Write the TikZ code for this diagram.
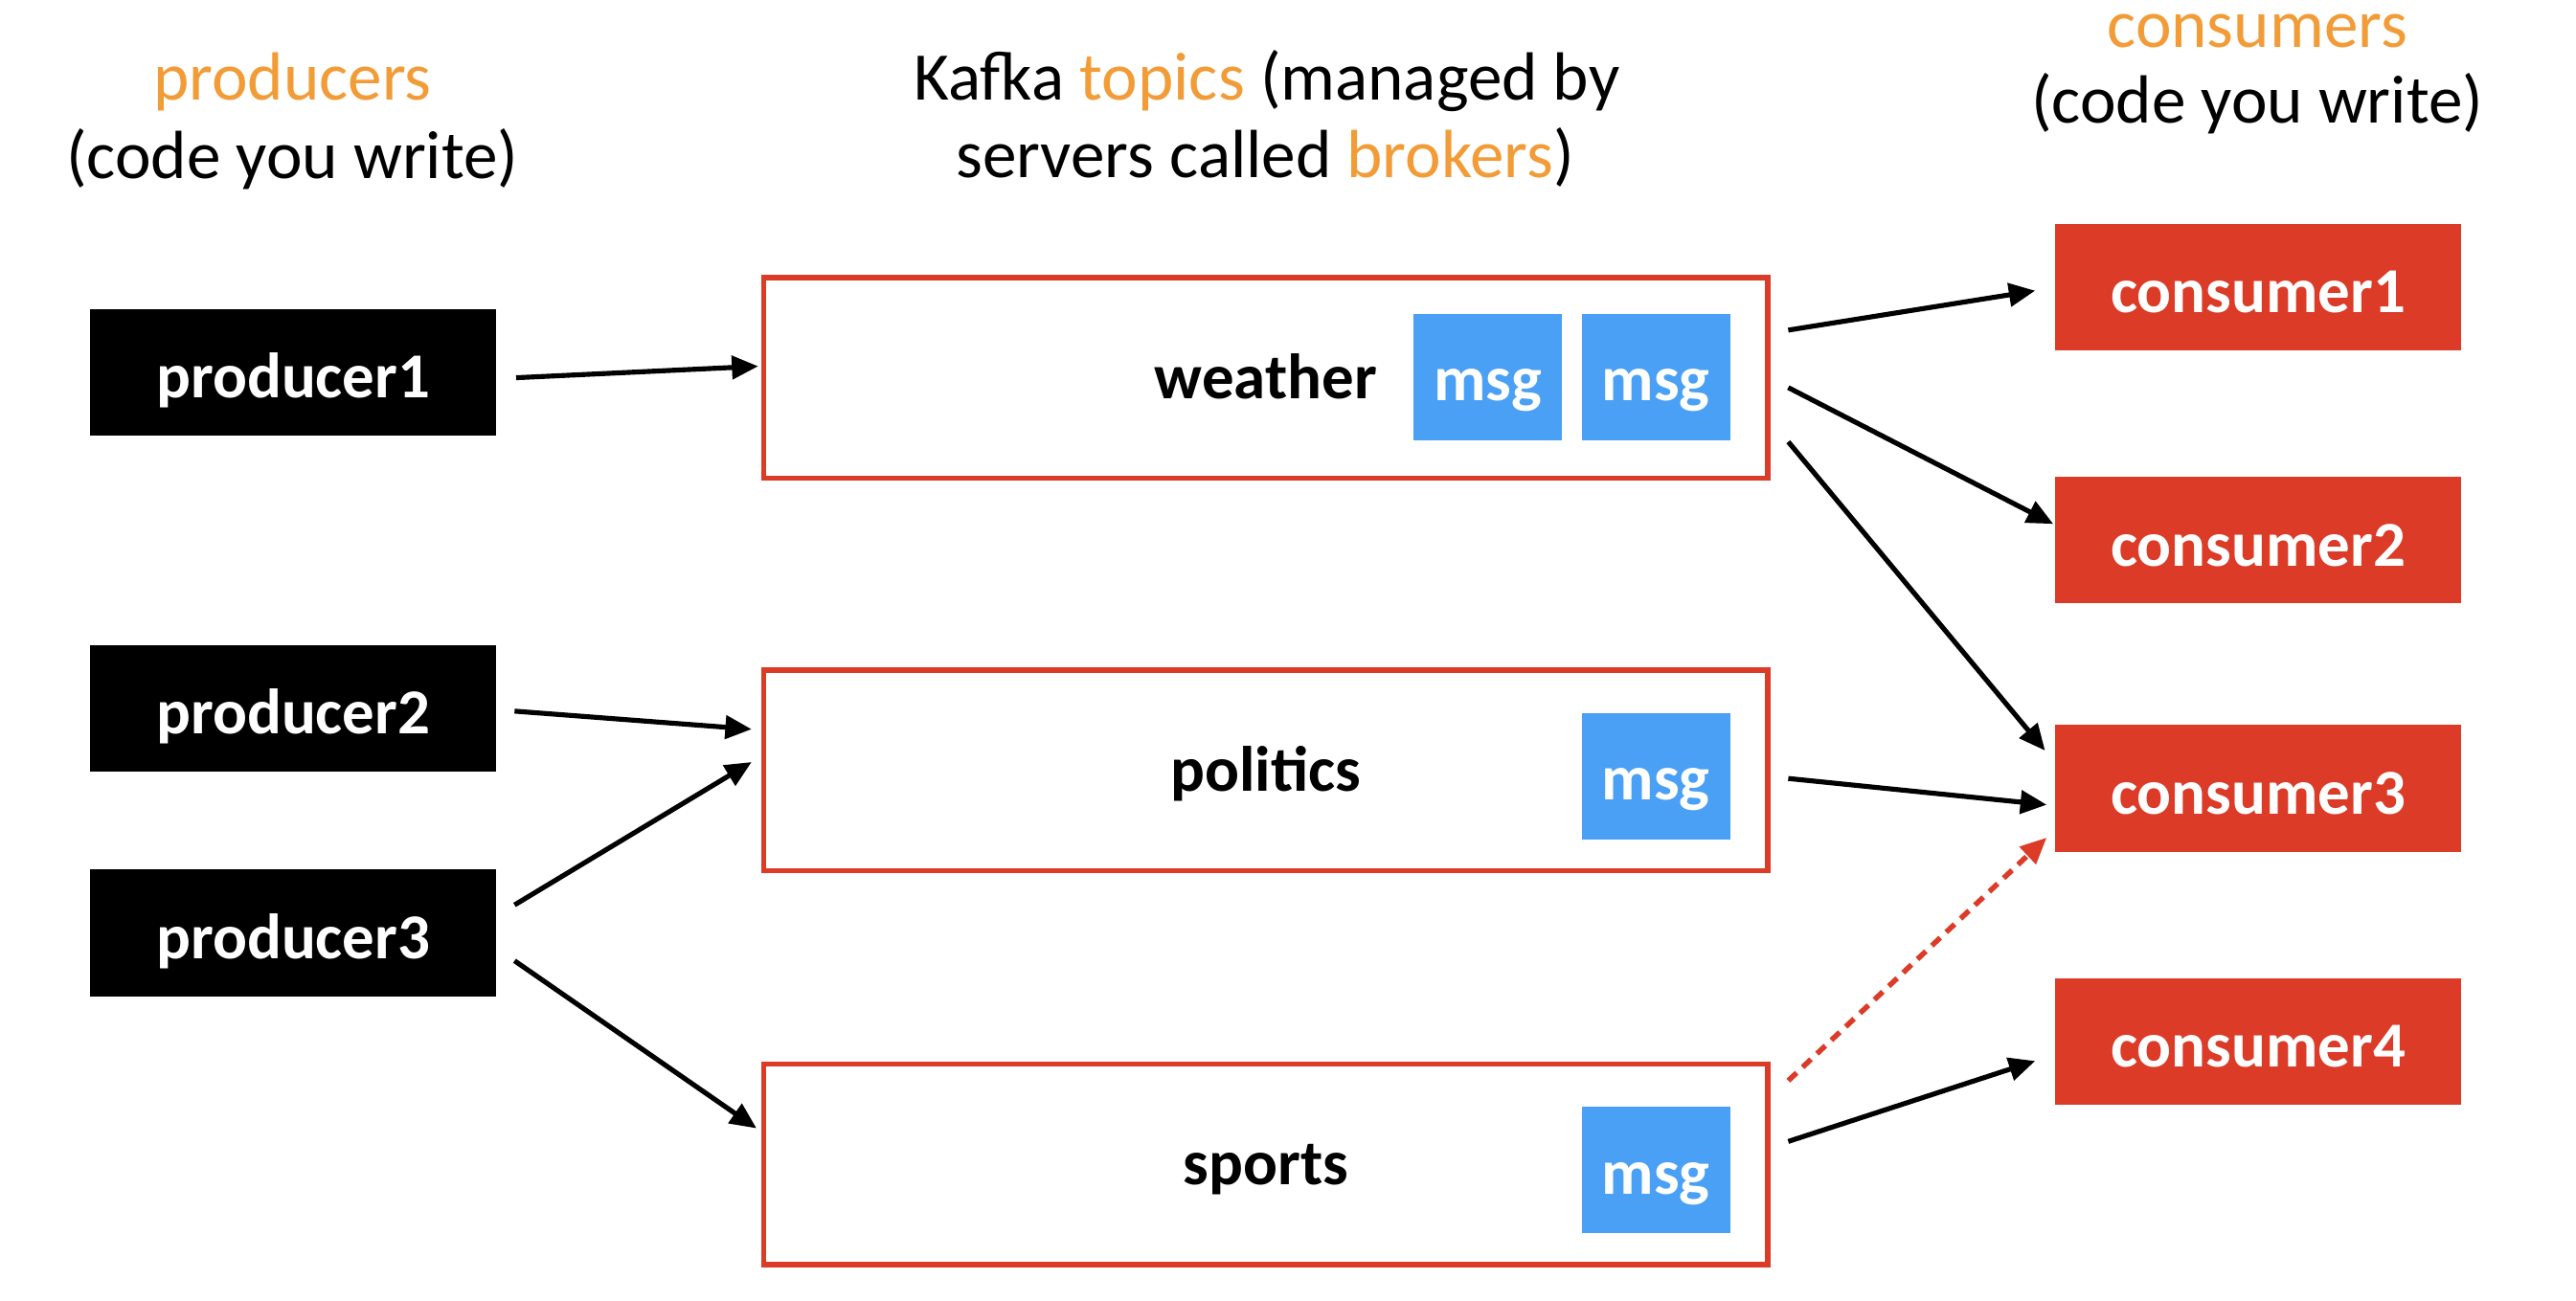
\documentclass[tikz,border=0pt]{standalone}
\usepackage{fontspec}
\setmainfont{Carlito}
\usetikzlibrary{arrows.meta,calc}
\definecolor{korange}{RGB}{242,156,56}
\definecolor{kred}{RGB}{219,59,39}
\definecolor{kblue}{RGB}{74,160,245}
\tikzset{
  title/.style={anchor=base,font=\fontsize{41.5}{48}\selectfont,inner sep=0pt},
  lbl/.style={text height=31pt,text depth=0pt,inner sep=0pt,font=\fontsize{39}{40}\selectfont\bfseries},
  prod/.style={lbl,fill=black,text=white,minimum width=247pt,minimum height=77pt},
  cons/.style={lbl,fill=kred,text=white,minimum width=247pt,minimum height=77pt},
  topic/.style={lbl,text height=25pt,draw=kred,line width=3pt,minimum width=611pt,minimum height=122pt},
  msgbox/.style={lbl,text height=29pt,fill=kblue,text=white,minimum width=90pt,minimum height=77pt},
  arr/.style={line width=3pt,-{Triangle[length=16pt,width=14pt]}},
  darr/.style={kred,line width=3.2pt,dash pattern=on 7pt off 5pt,-{Triangle[length=16pt,width=14pt]}}
}
\begin{document}
\begin{tikzpicture}[x=1pt,y=-1pt]
\useasboundingbox (0,0) rectangle (1568,792);
% titles
\node[title] (tprod1) at (178,61) {\textcolor{korange}{producers}};
\node[title] (tprod2) at (178,108.5) {(code you write)};
\node[title] (tkafka1) at (771,61) {Kafka \textcolor{korange}{topics} (managed by};
\node[title] (tkafka2) at (770,108) {servers called \textcolor{korange}{brokers})};
\node[title] (tcons1) at (1374,29) {\textcolor{korange}{consumers}};
\node[title] (tcons2) at (1374,75) {(code you write)};
% producers
\node[prod] (p1) at (178.5,226.5) {producer1};
\node[prod] (p2) at (178.5,431.5) {producer2};
\node[prod] (p3) at (178.5,568) {producer3};
% topics
\node[topic] (weather) at (770.5,230) {weather};
\node[topic] (politics) at (770.5,469) {politics};
\node[topic] (sports) at (770.5,709) {sports};
\node[msgbox] (w1) at (905.5,229.5) {msg};
\node[msgbox] (w2) at (1008,229.5) {msg};
\node[msgbox] (pm) at (1008,472.5) {msg};
\node[msgbox] (sm) at (1008,712.5) {msg};
% consumers
\node[cons] (c1) at (1374.5,175) {consumer1};
\node[cons] (c2) at (1374.5,329) {consumer2};
\node[cons] (c3) at (1374.5,480) {consumer3};
\node[cons] (c4) at (1374.5,634) {consumer4};
% arrows
\draw[arr] ([xshift=12pt,yshift=-3.5pt]p1.east) -- ([xshift=-2pt,yshift=7pt]weather.west);
\draw[arr] ([xshift=11pt,yshift=-1.5pt]p2.east) -- ([xshift=-6pt,yshift=25pt]politics.west);
\draw[arr] ([xshift=11pt,yshift=17pt]p3.east) -- ([xshift=-6pt,yshift=5pt]politics.west);
\draw[arr] ([xshift=11pt,yshift=-17pt]p3.east) -- ([xshift=-3pt,yshift=22pt]sports.west);
\draw[arr] ([xshift=11pt,yshift=29pt]weather.east) -- ([xshift=-12pt,yshift=-2pt]c1.west);
\draw[arr] ([xshift=11pt,yshift=-6pt]weather.east) -- ([xshift=-1pt,yshift=10pt]c2.west);
\draw[arr] ([xshift=11pt,yshift=-39pt]weather.east) -- ([xshift=-6pt,yshift=23pt]c3.west);
\draw[arr] ([xshift=11pt,yshift=-5pt]politics.east) -- ([xshift=-5pt,yshift=-10pt]c3.west);
\draw[darr] ([xshift=11pt,yshift=51pt]sports.east) -- ([xshift=-5pt,yshift=-30pt]c3.west);
\draw[arr] ([xshift=11pt,yshift=14pt]sports.east) -- ([xshift=-12pt,yshift=-12pt]c4.west);
\end{tikzpicture}
\end{document}
